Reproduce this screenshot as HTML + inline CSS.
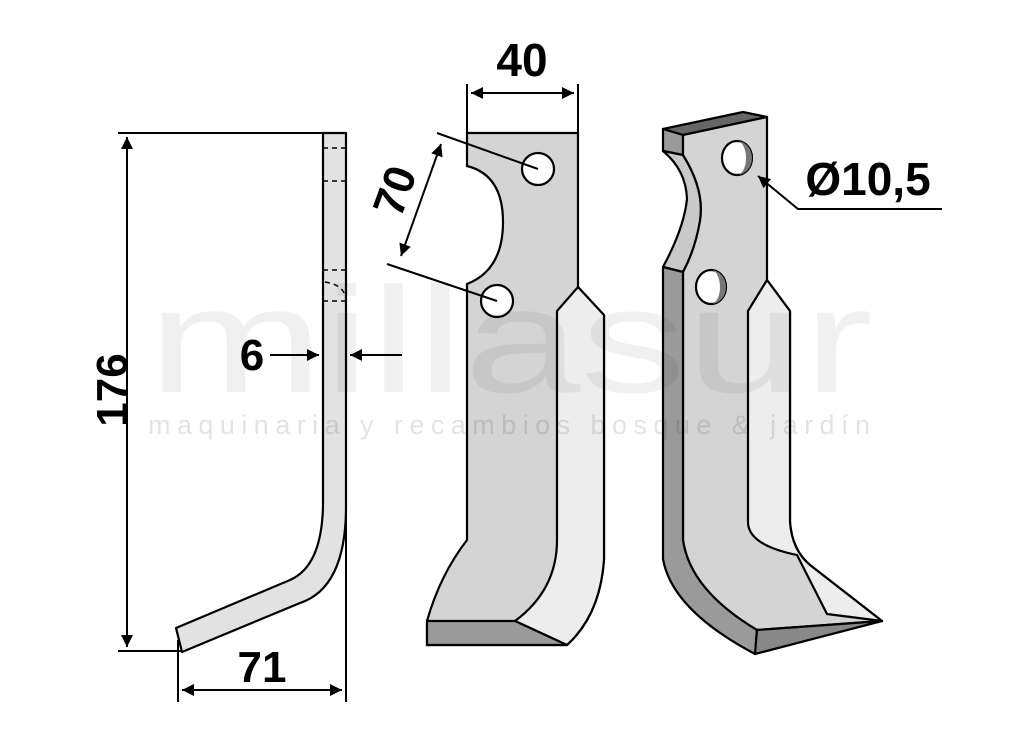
<!DOCTYPE html>
<html><head><meta charset="utf-8"><style>
html,body{margin:0;padding:0;background:#fff;}
svg{display:block;}
text{font-family:"Liberation Sans",sans-serif;}
</style></head><body>
<svg width="1024" height="740" viewBox="0 0 1024 740" xmlns="http://www.w3.org/2000/svg">
<defs>
<marker id="ah" viewBox="0 0 10 10" refX="10" refY="5" markerWidth="14" markerHeight="12" markerUnits="userSpaceOnUse" orient="auto-start-reverse"><path d="M0,0 L10,5 L0,10 z" fill="#000"/></marker>
</defs>

<!-- LEFT BLADE (side view) -->
<g stroke="#000" stroke-width="2.2" fill="#e2e2e2" stroke-linejoin="round">
<path d="M323,133 L346,133 L346,510 Q345,588 300,603 L182,652 L176,628 L290,580 Q322,566 323,505 Z"/>
</g>
<g stroke="#000" stroke-width="1.5" stroke-dasharray="5,4">
<line x1="323" y1="148" x2="346" y2="148"/><line x1="323" y1="181" x2="346" y2="181"/>
<line x1="323" y1="270" x2="346" y2="270"/><line x1="323" y1="301" x2="346" y2="301"/>
<path d="M325,282 Q345,285 346,300" fill="none"/>
</g>
<!-- dims left -->
<g stroke="#000" stroke-width="2" fill="none">
<line x1="118" y1="133" x2="346" y2="133"/>
<line x1="118" y1="651" x2="181" y2="651"/>
<line x1="127" y1="137" x2="127" y2="647" marker-start="url(#ah)" marker-end="url(#ah)"/>
<line x1="178" y1="640" x2="178" y2="702"/>
<line x1="346" y1="500" x2="346" y2="702"/>
<line x1="182" y1="690" x2="342" y2="690" marker-start="url(#ah)" marker-end="url(#ah)"/>
<line x1="270" y1="355" x2="319" y2="355" marker-end="url(#ah)"/>
<line x1="402" y1="355" x2="350" y2="355" marker-end="url(#ah)"/>
</g>
<text x="0" y="0" font-size="44" font-weight="bold" transform="translate(127,390) rotate(-90)" text-anchor="middle">176</text>
<text x="262" y="682" font-size="44" font-weight="bold" text-anchor="middle">71</text>
<text x="252" y="370" font-size="44" font-weight="bold" text-anchor="middle">6</text>

<!-- MIDDLE BLADE -->
<g stroke="#000" stroke-width="2.2">
<path fill="#d4d4d4" d="M467,133 L578,133 L578,287 L604,315 L604,560 Q600,615 567,645 L427,645 L427,621 Q440,575 467,540 L467,284 Q503,270 503,222 Q503,175 467,166 Z"/>
<path fill="#ededed" d="M578,287 L604,315 L604,560 Q600,615 567,645 L515,621 Q557,590 557,540 L557,311 Z"/>
<path fill="#9a9a9a" d="M427,621 L515,621 L567,645 L427,645 Z"/>
<circle cx="538" cy="169" r="16" fill="#fff"/>
<circle cx="497" cy="301" r="16" fill="#fff"/>
</g>
<g stroke="#000" stroke-width="2" fill="none">
<line x1="467" y1="84" x2="467" y2="133"/>
<line x1="578" y1="84" x2="578" y2="133"/>
<line x1="471" y1="93" x2="574" y2="93" marker-start="url(#ah)" marker-end="url(#ah)"/>
<line x1="437" y1="133" x2="538" y2="169"/>
<line x1="387" y1="264" x2="497" y2="301"/>
<line x1="441" y1="144" x2="401" y2="256" marker-start="url(#ah)" marker-end="url(#ah)"/>
</g>
<text x="522" y="76" font-size="46" font-weight="bold" text-anchor="middle">40</text>
<text font-size="44" font-weight="bold" text-anchor="middle" transform="translate(409,196) rotate(-70)">70</text>

<!-- RIGHT BLADE -->
<g stroke="#000" stroke-width="2.2" stroke-linejoin="round">
<path fill="#666" d="M663,129 L743,112 L767,117 L683,135 Z"/>
<path fill="#9a9a9a" d="M663,129 L683,135 L683,155 L663,151 Z"/>
<path fill="#c9c9c9" d="M663,151 L683,155 Q705,190 700,221 Q695,250 683,272 L663,267 Q684,228 687,199 Q686,170 663,151 Z"/>
<path fill="#d4d4d4" d="M683,135 L767,117 L767,280 L790,311 L790,522 Q792,550 810,565 L882,621 L757,630 Q690,590 683,540 L683,272 Q695,250 700,221 Q705,190 683,155 Z"/>
<path fill="#ededed" d="M767,280 L790,311 L790,522 Q792,550 810,565 L882,621 L827,614 L797,555 Q748,545 748,522 L748,311 Z"/>
<path fill="#9a9a9a" d="M663,267 L683,272 L683,540 Q690,590 757,630 L755,654 Q672,610 663,559 Z"/>
<path fill="#888" d="M757,630 L882,621 L755,654 Z"/>
<ellipse cx="737" cy="158" rx="15" ry="17" fill="#fff"/>
<path d="M737,141 A15,17 0 0 1 737,175 A9,17 0 0 0 737,141 Z" fill="#777" stroke="none"/>
<ellipse cx="711" cy="287" rx="15" ry="17" fill="#fff"/>
<path d="M711,270 A15,17 0 0 1 711,304 A9,17 0 0 0 711,270 Z" fill="#777" stroke="none"/>
</g>
<g stroke="#000" stroke-width="2" fill="none">
<polyline points="942,209 798,209 758,176" marker-end="url(#ah)"/>
</g>
<text x="868" y="195" font-size="46" font-weight="bold" text-anchor="middle">Ø10,5</text>

<!-- watermark -->
<text x="148" y="392" font-size="150" fill="#000" fill-opacity="0.06" textLength="725" lengthAdjust="spacingAndGlyphs">millasur</text>
<text x="148" y="434" font-size="27" fill="#000" fill-opacity="0.11" textLength="722" lengthAdjust="spacing">maquinaria y recambios bosque &amp; jardín</text>
</svg>
</body></html>
